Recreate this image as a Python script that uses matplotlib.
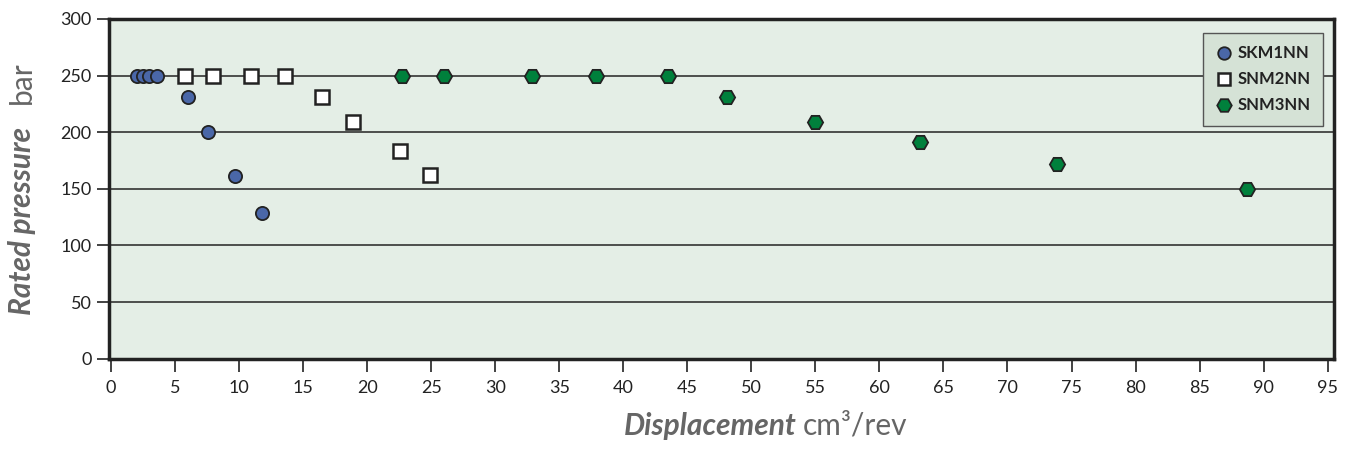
import matplotlib.pyplot as plt

# SKM1NN (kreise)
skm1_x = [2.0, 2.5, 3.0, 3.6, 6.0, 7.6, 9.7, 11.8]
skm1_y = [250, 250, 250, 250, 231, 200, 161, 129]

# SNM2NN (quadrate)
snm2_x = [5.8, 8.0, 10.9, 13.6, 16.5, 18.9, 22.6, 24.9]
snm2_y = [250, 250, 250, 250, 231, 209, 183, 162]

# SNM3NN (sechsecke)
snm3_x = [22.7, 26.0, 32.9, 37.9, 43.5, 48.1, 55.0, 63.2, 73.9, 88.7]
snm3_y = [250, 250, 250, 250, 250, 231, 209, 191, 172, 150]

x_ticks = list(range(0, 96, 5))
y_ticks = list(range(0, 301, 50))

plt.rcParams['font.family'] = ['Lato', 'DejaVu Sans']

fig = plt.figure(figsize=(13.53, 4.51), dpi=100)
ax = fig.add_axes([0.0806, 0.2047, 0.9054, 0.7533])
ax.set_facecolor('#e4eee6')

# Gitterlinien
for yv in y_ticks[1:-1]:
    ax.axhline(yv, color='#333333', linewidth=1.2, zorder=1)

edge = '#222222'
ax.plot(skm1_x, skm1_y, 'o', ms=9.5, mfc='#4a67a8', mec=edge, mew=1.3,
        label='SKM1NN', zorder=3)
ax.plot(snm2_x, snm2_y, 's', ms=9.5, mfc='white', mec=edge, mew=1.8,
        label='SNM2NN', zorder=3)
ax.plot(snm3_x, snm3_y, 'H', ms=11, mfc='#00803c', mec=edge, mew=1.3,
        label='SNM3NN', zorder=3)

ax.set_xlim(-0.15, 95.5)
ax.set_ylim(0, 300)
ax.set_xticks(x_ticks)
ax.set_yticks(y_ticks)
ax.tick_params(axis='both', labelsize=13, colors='#222222', length=9,
               width=1.2, direction='out')
ax.tick_params(axis='x', pad=6)
for s in ax.spines.values():
    s.set_linewidth(2.5)
    s.set_color('#222222')

leg = ax.legend(loc='upper right', bbox_to_anchor=(0.991, 0.959),
                borderaxespad=0, fontsize=12, frameon=True, fancybox=False,
                handletextpad=0.3, borderpad=0.75, labelspacing=0.6,
                handlelength=1.0, markerscale=0.95)
leg.get_frame().set_facecolor('#d5e2d6')
leg.get_frame().set_edgecolor('#555555')
leg.get_frame().set_linewidth(1.0)
leg.get_frame().set_alpha(1)
for t in leg.get_texts():
    t.set_fontweight('bold')
    t.set_color('#222222')

# Achsentitel
grey = '#666666'
fig.text(0.0163, 0.509, 'Rated pressure', rotation=90, fontsize=21.5,
         fontweight='bold', fontstyle='italic', color=grey,
         ha='center', va='center')
fig.text(0.0163, 0.816, 'bar', rotation=90, fontsize=21.5, color=grey,
         ha='center', va='center')
fig.text(0.589, 0.0355, 'Displacement', fontsize=21.5, fontweight='bold',
         fontstyle='italic', color=grey, ha='right', va='baseline')
fig.text(0.5935, 0.0355, 'cm³/rev', fontsize=21.5, color=grey,
         ha='left', va='baseline')

fig.savefig('out.png', dpi=100)
